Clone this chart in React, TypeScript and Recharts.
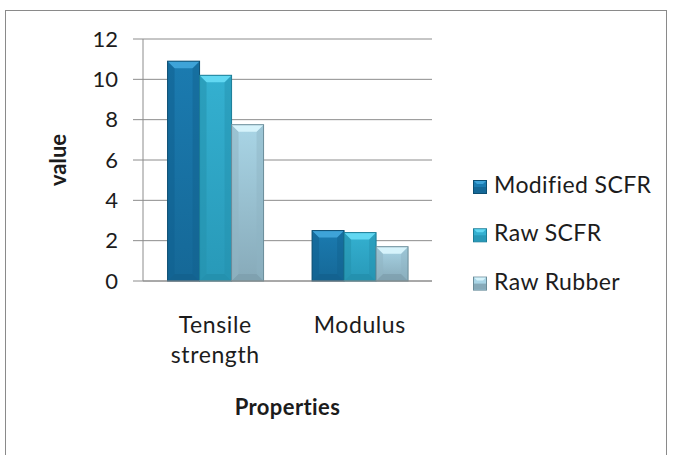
import { BarChart, Bar, XAxis, YAxis, CartesianGrid } from "recharts";

const categories = ["Tensile strength", "Modulus"];
const seriesNames = ["Modified SCFR", "Raw SCFR", "Raw Rubber"];
const modifiedScfr = [10.9, 2.5];
const rawScfr = [10.2, 2.4];
const rawRubber = [7.75, 1.7];
const yTicks = [0, 2, 4, 6, 8, 10, 12];

const PALETTE = [
  { hi: "#1b7bb0", lo: "#156897", top: "#3ea3d8", edge: "#0d4e72", side: "#11618f", bottom: "#12608c" },
  { hi: "#34b0d0", lo: "#2899b8", top: "#62d8f2", edge: "#1b7d97", side: "#2491ad", bottom: "#228da9" },
  { hi: "#a9d5e6", lo: "#87aab9", top: "#d6f3fb", edge: "#6a8c99", side: "#8fb4c3", bottom: "#7c9dab" },
];

const FONT = "Lato, 'Open Sans', sans-serif";
const TEXT = "#1c1c1c";

const data = categories.map((name, i) => ({
  name,
  s0: modifiedScfr[i],
  s1: rawScfr[i],
  s2: rawRubber[i],
}));

function BevelBar(props: any) {
  const { x, y, width: w, height: h, pal, gid } = props;
  if (!w || !h || h <= 0) return null;
  const b = Math.min(7, w / 4, h / 2);
  return (
    <g>
      <rect x={x} y={y} width={w} height={h} fill={`url(#${gid})`} />
      <polygon points={`${x},${y} ${x + b},${y + b} ${x + b},${y + h - b} ${x},${y + h}`} fill={pal.side} opacity={0.55} />
      <polygon points={`${x + w},${y} ${x + w - b},${y + b} ${x + w - b},${y + h - b} ${x + w},${y + h}`} fill={pal.side} opacity={0.45} />
      <polygon points={`${x},${y + h} ${x + b},${y + h - b} ${x + w - b},${y + h - b} ${x + w},${y + h}`} fill={pal.bottom} opacity={0.7} />
      <polygon points={`${x},${y} ${x + w},${y} ${x + w - b},${y + b} ${x + b},${y + b}`} fill={pal.top} />
      <rect x={x} y={y} width={w} height={h} fill="none" stroke={pal.edge} strokeWidth={1} />
    </g>
  );
}

function CategoryTick(props: any) {
  const { x, y, payload } = props;
  const words = String(payload.value).split(" ");
  return (
    <text x={x} y={y + 52} textAnchor="middle" fontFamily={FONT} fontSize={23} letterSpacing={0.6} fill={TEXT}>
      {words.map((wd, i) => (
        <tspan key={i} x={x} dy={i === 0 ? 0 : 30}>
          {wd}
        </tspan>
      ))}
    </text>
  );
}

// legend drawn as an overlay so it does not take room from the plot
function LegendBox() {
  return (
    <svg width={200} height={140} style={{ position: "absolute", left: 470, top: 170 }}>
      {seriesNames.map((n, i) => {
        const base = 23 + i * 48.3;
        const p = PALETTE[i];
        return (
          <g key={n}>
            <rect x={3.5} y={base - 12.5} width={13} height={13} fill={p.hi} stroke={p.edge} />
            <rect x={4} y={base - 6} width={12} height={6} fill={p.lo} />
            <polygon points={`${4},${base - 12} ${16},${base - 12} ${13},${base - 9} ${7},${base - 9}`} fill={p.top} />
            <text x={24} y={base} fontFamily={FONT} fontSize={23} letterSpacing={0.4} fill={TEXT}>
              {n}
            </text>
          </g>
        );
      })}
    </svg>
  );
}

export default function App() {
  return (
    <div style={{ position: "absolute", left: 0, top: 0, width: 673, height: 455, background: "#fff", overflow: "hidden" }}>
      <div
        style={{
          position: "absolute",
          left: 5,
          top: 10,
          width: 662,
          height: 470,
          border: "1.5px solid #8a8a8a",
          boxSizing: "border-box",
        }}
      />
      <BarChart
        width={673}
        height={455}
        data={data}
        margin={{ top: 39, right: 241, bottom: 0, left: 0 }}
        barGap={0}
        barCategoryGap="17%"
      >
        <defs>
          {PALETTE.map((p, i) => (
            <linearGradient key={i} id={`bg${i}`} x1="0" y1="0" x2="0" y2="1">
              <stop offset="0%" stopColor={p.hi} />
              <stop offset="100%" stopColor={p.lo} />
            </linearGradient>
          ))}
        </defs>
        <CartesianGrid vertical={false} stroke="#8c8c8c" strokeWidth={1} />
        <XAxis
          dataKey="name"
          height={174}
          axisLine={{ stroke: "#8c8c8c" }}
          tickLine={false}
          tickSize={0}
          tickMargin={0}
          tick={<CategoryTick />}
          interval={0}
          label={{
            value: "Properties",
            position: "insideBottom",
            offset: 40,
            style: {
              fontFamily: FONT,
              fontSize: 22,
              fontWeight: 700,
              fill: TEXT,
              letterSpacing: 0.4,
              fontVariantLigatures: "none",
            },
          }}
        />
        <YAxis
          width={143}
          domain={[0, 12]}
          ticks={yTicks}
          axisLine={{ stroke: "#8c8c8c" }}
          tickLine={{ stroke: "#8c8c8c" }}
          tickSize={10}
          tickMargin={15}
          tick={{ fontFamily: FONT, fontSize: 22, fill: TEXT }}
          label={{
            content: (p: any) => {
              const vb = p.viewBox;
              const cx = vb.x + 57;
              const cy = vb.y + vb.height / 2;
              return (
                <text
                  x={cx}
                  y={cy}
                  transform={`rotate(-90 ${cx} ${cy})`}
                  textAnchor="middle"
                  dominantBaseline="central"
                  fontFamily={FONT}
                  fontSize={22}
                  fontWeight={700}
                  fill={TEXT}
                >
                  value
                </text>
              );
            },
          }}
        />
        {[0, 1, 2].map((i) => (
          <Bar
            key={i}
            dataKey={`s${i}`}
            name={seriesNames[i]}
            isAnimationActive={false}
            fill={PALETTE[i].hi}
            shape={(p: any) => <BevelBar {...p} pal={PALETTE[i]} gid={`bg${i}`} />}
          />
        ))}
      </BarChart>
      <LegendBox />
    </div>
  );
}
